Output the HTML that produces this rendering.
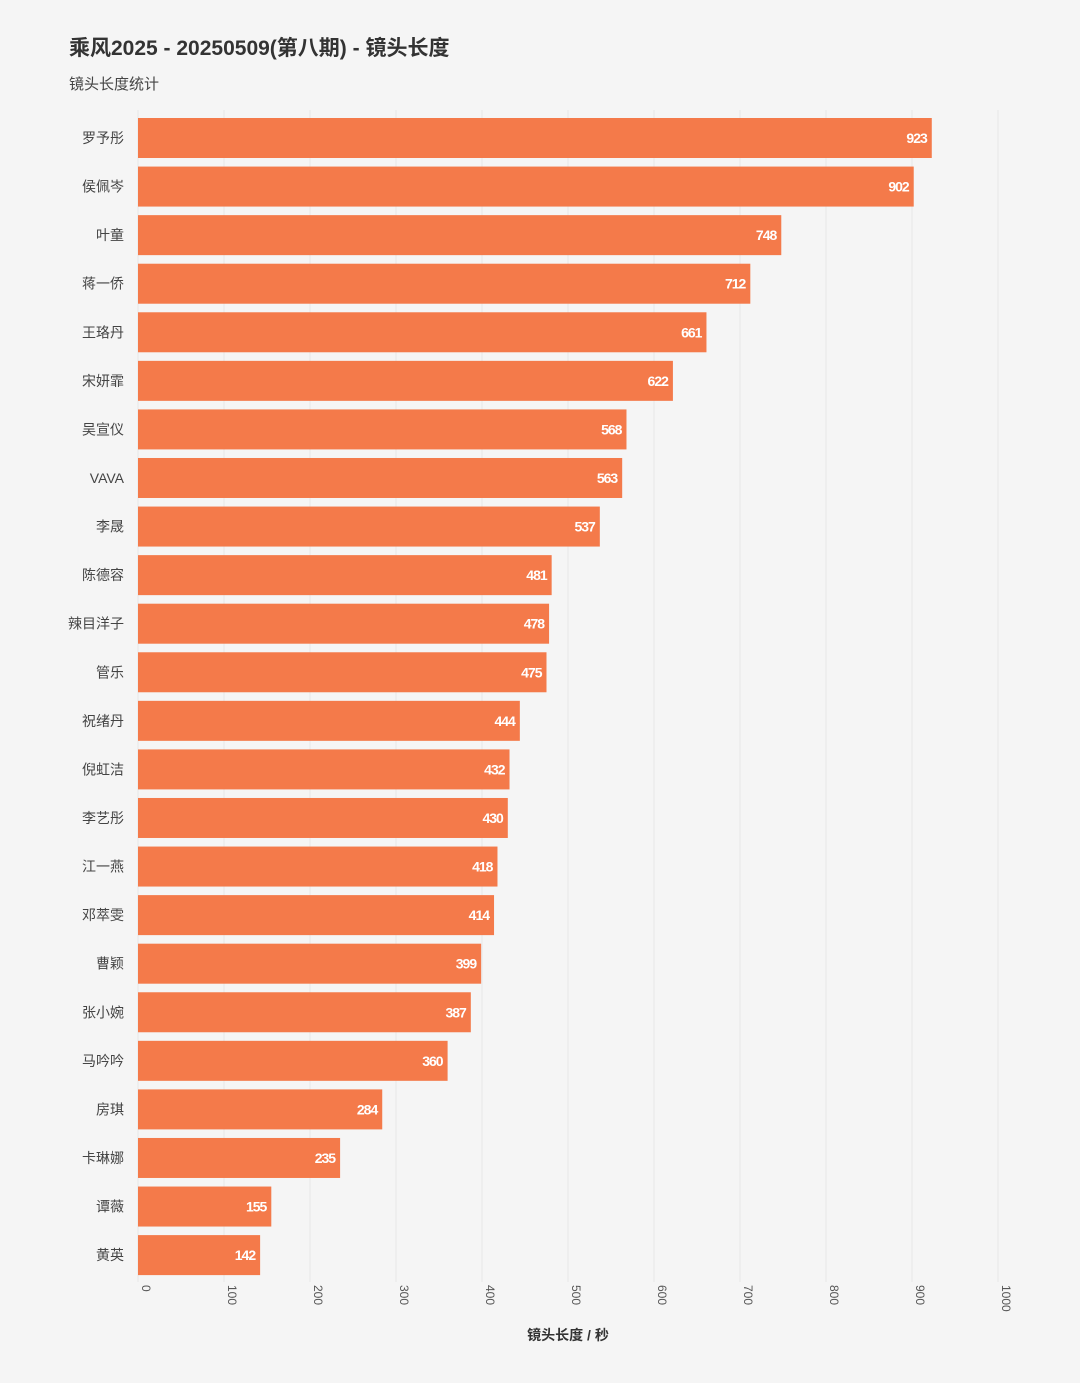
<!DOCTYPE html>
<html><head><meta charset="utf-8"><style>
html,body{margin:0;padding:0;background:#f5f5f5;}
svg{display:block;font-family:"Liberation Sans","Noto Sans CJK SC",sans-serif;}
</style></head><body>
<svg id="c" width="1080" height="1383">
<text x="69" y="55" font-size="21" font-weight="bold" fill="#333">乘风2025 - 20250509(第八期) - 镜头长度</text>
<text x="69" y="89" font-size="15" fill="#444">镜头长度统计</text>
<g id="grid"></g>
<g id="bars"></g>
<g id="xt"></g>
<text x="568" y="1340" font-size="14" font-weight="bold" fill="#333" text-anchor="middle">镜头长度 / 秒</text>
</svg>
<script>
const names=["罗予彤","侯佩岑","叶童","蒋一侨","王珞丹","宋妍霏","吴宣仪","VAVA","李晟","陈德容","辣目洋子","管乐","祝绪丹","倪虹洁","李艺彤","江一燕","邓萃雯","曹颖","张小婉","马吟吟","房琪","卡琳娜","谭薇","黄英"];
const values=[923,902,748,712,661,622,568,563,537,481,478,475,444,432,430,418,414,399,387,360,284,235,155,142];
const ticks=[0,100,200,300,400,500,600,700,800,900,1000];
const NS="http://www.w3.org/2000/svg";
const x0=138,x1=998,xmax=1000,y0=118,pitch=48.57,bh=40;
const xs=v=>x0+(v/xmax)*(x1-x0);
function mk(t,a,p){const e=document.createElementNS(NS,t);for(const k in a)e.setAttribute(k,a[k]);p.appendChild(e);return e;}
const grid=document.getElementById('grid'),bars=document.getElementById('bars'),xt=document.getElementById('xt');
ticks.forEach(t=>{
 const l=mk('line',{x1:xs(t),x2:xs(t),y1:110,y2:1282,stroke:'#e6e6e6','stroke-width':1},grid);
 
 
 const x=xs(t)+4;
 const tx=mk('text',{x:x,y:1285,'font-size':12,fill:'#555',transform:`rotate(90 ${x} 1285)`},xt);
 tx.textContent=t;
 
 
});
names.forEach((n,i)=>{
 const y=y0+i*pitch;
 const r=mk('rect',{x:x0,y:y,width:xs(values[i])-x0,height:bh,fill:'#f47a4a'},bars);
 
 
 const lb=mk('text',{x:124,y:y+bh/2+5,'font-size':14,fill:'#444','text-anchor':'end'},bars);
 lb.textContent=n;
 
 
 const vl=mk('text',{x:xs(values[i])-5,y:y+bh/2+5,'font-size':14,fill:'#fff','font-weight':'bold','text-anchor':'end','letter-spacing':'-1'},bars);
 vl.textContent=values[i];
 
 
});
</script>
</body></html>
